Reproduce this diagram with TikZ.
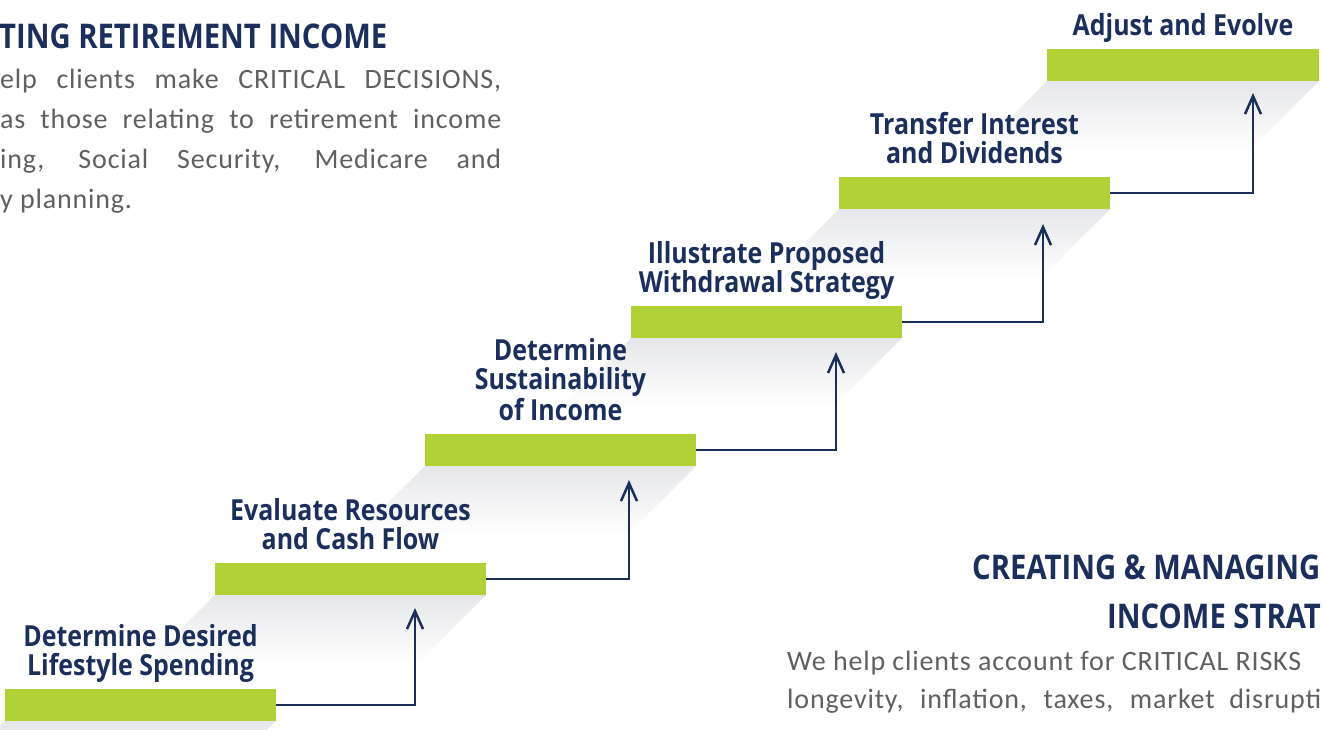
\documentclass[tikz,border=0pt]{standalone}
\usepackage{fontspec}
\usetikzlibrary{arrows.meta,calc}
\newfontfamily\headfont[FakeStretch=0.86]{Open Sans}
\newfontfamily\bodyfont[LetterSpace=3]{Carlito}
\definecolor{navy}{HTML}{1C2E5C}
\definecolor{lime}{HTML}{B1D236}
\definecolor{bodygray}{HTML}{5F6063}
\definecolor{shadowgray}{HTML}{E6E7EA}
\newcommand\shadowstep[4]{%
  \begin{scope}
    \clip (#1,#4) -- (#3,#4) -- ($(#3,#4)+(-70,70)$) -- ($(#1,#4)+(-70,70)$) -- cycle;
    \shade[top color=shadowgray, bottom color=white] (#1-80,#4) rectangle (#3,#4+70);
  \end{scope}}
\begin{document}
\begin{tikzpicture}[x=1pt,y=-1pt,
  bar/.style={fill=lime, draw=none, minimum width=271pt, minimum height=32pt, inner sep=0pt, outer sep=0pt},
  steplabel/.style={font=\headfont\bfseries\fontsize{29}{29}\selectfont, text=navy, align=center, inner sep=0pt, anchor=south},
  headline/.style={font=\headfont\bfseries\fontsize{34}{34}\selectfont, text=navy, inner sep=0pt, anchor=base west},
  bodytext/.style={font=\bodyfont\fontsize{28}{40}\selectfont, text=bodygray, inner sep=0pt, anchor=base west},
  conn/.style={draw=navy, line width=2.5pt, -{Straight Barb[length=18pt,width=16pt]}}]
\useasboundingbox (0,0) rectangle (1323,729);
\fill[white] (0,0) rectangle (1323,729);
\clip (0,0) rectangle (1323,729);

% shadows
\shadowstep{5}{689}{276}{721}
\shadowstep{215}{563}{486}{595}
\shadowstep{425}{434}{696}{466}
\shadowstep{631}{306}{902}{338}
\shadowstep{839}{177}{1110}{209}
\shadowstep{1047}{49}{1319}{81}

% bars
\node[bar] (b1) at (140.5,705) {};
\node[bar] (b2) at (350.5,579) {};
\node[bar] (b3) at (560.5,450) {};
\node[bar] (b4) at (766.5,322) {};
\node[bar] (b5) at (974.5,193) {};
\node[bar, minimum width=272pt] (b6) at (1183,65) {};

% arrow tips
\coordinate (t2) at ($(b2.south east)+(-71,13)$);
\coordinate (t3) at ($(b3.south east)+(-67,14)$);
\coordinate (t4) at ($(b4.south east)+(-66,14)$);
\coordinate (t5) at ($(b5.south east)+(-67,15)$);
\coordinate (t6) at ($(b6.south east)+(-66,12)$);

% connectors
\draw[conn] (b1.east) -| (t2);
\draw[conn] (b2.east) -| (t3);
\draw[conn] (b3.east) -| (t4);
\draw[conn] (b4.east) -| (t5);
\draw[conn] (b5.east) -| (t6);

% step labels
\node[steplabel] (l1) at ($(b1.north)+(0,-5)$) {Determine Desired\\Lifestyle Spending\strut};
\node[steplabel] (l2) at ($(b2.north)+(0,-5)$) {Evaluate Resources\\and Cash Flow\strut};
\node[steplabel] (l3) at ($(b3.north)+(0,-5)$) {Determine\\Sustainability\\of Income\strut};
\node[steplabel] (l4) at ($(b4.north)+(0,-5)$) {Illustrate Proposed\\Withdrawal Strategy\strut};
\node[steplabel] (l5) at ($(b5.north)+(0,-5)$) {Transfer Interest\\and Dividends\strut};
\node[steplabel] (l6) at ($(b6.north)+(0,-5)$) {Adjust and Evolve\strut};

% top-left text block
\node[headline] (h1) at (-1,48) {TING RETIREMENT INCOME};
\node[bodytext] (p1) at (0,88) {\makebox[501pt][s]{elp clients make CRITICAL DECISIONS,}};
\node[bodytext] (p2) at (0,128) {\makebox[501pt][s]{as those relating to retirement income}};
\node[bodytext] (p3) at (0,168) {\makebox[501pt][s]{ing, Social Security, Medicare and}};
\node[bodytext] (p4) at (0,208) {y planning.};

% bottom-right text block
\node[headline] (h2) at (972,579) {CREATING \& MANAGING};
\node[headline] (h3) at (1107,628) {INCOME STRAT};
\node[bodytext] (q1) at (787,670) {We help clients account for CRITICAL RISKS};
\node[bodytext] (q2) at (787,708) {\makebox[534pt][s]{longevity, inflation, taxes, market disrupti}};
\end{tikzpicture}
\end{document}
